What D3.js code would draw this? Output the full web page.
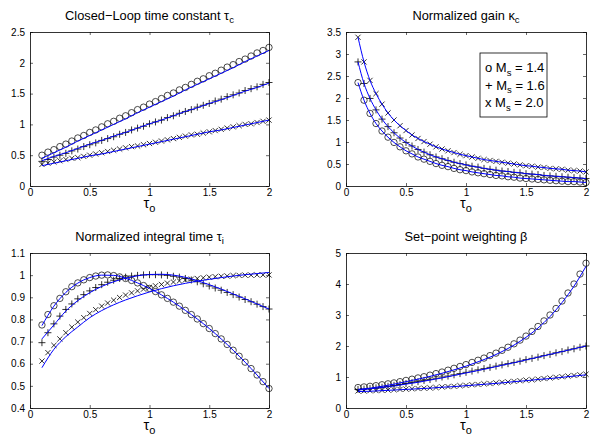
<!DOCTYPE html>
<html>
<head>
<meta charset="utf-8">
<script src="https://cdn.jsdelivr.net/npm/d3@7"></script>
<style>
  body { margin: 0; background: #fff; }
  svg { font-family: "Liberation Sans", Arial, Helvetica, sans-serif; }
</style>
</head>
<body>
<svg width="599" height="445"></svg>
<script>
const svg = d3.select("svg");

// sample points (markers) and fitted curve points
const tauO = [0.10,0.15,0.20,0.25,0.30,0.35,0.40,0.45,0.50,0.55,0.60,0.65,0.70,0.75,0.80,0.85,0.90,0.95,1.00,
  1.05,1.10,1.15,1.20,1.25,1.30,1.35,1.40,1.45,1.50,1.55,1.60,1.65,1.70,1.75,1.80,1.85,1.90,1.95,2.00];
const tauFit = [0.1,0.2,0.3,0.4,0.5,0.6,0.7,0.8,0.9,1.0,1.1,1.2,1.3,1.4,1.5,1.6,1.7,1.8,1.9,2.0];

// closed-loop time constant tau_c
const tcO = [0.50,0.55,0.59,0.64,0.68,0.73,0.78,0.82,0.87,0.91,0.96,1.01,1.05,1.10,1.14,1.19,1.24,1.28,1.33,
  1.37,1.42,1.47,1.51,1.56,1.60,1.65,1.70,1.74,1.79,1.83,1.88,1.93,1.97,2.02,2.06,2.11,2.16,2.20,2.25];
const tcP = [0.40,0.43,0.47,0.50,0.53,0.57,0.60,0.64,0.67,0.70,0.74,0.77,0.80,0.84,0.87,0.91,0.94,0.97,1.01,
  1.04,1.07,1.11,1.14,1.18,1.21,1.24,1.28,1.31,1.34,1.38,1.41,1.45,1.48,1.51,1.55,1.58,1.61,1.65,1.68];
const tcX = [0.35,0.37,0.39,0.41,0.43,0.45,0.46,0.48,0.50,0.52,0.54,0.56,0.58,0.60,0.62,0.64,0.65,0.67,0.69,
  0.71,0.73,0.75,0.77,0.79,0.81,0.83,0.84,0.86,0.88,0.90,0.92,0.94,0.96,0.98,1.00,1.01,1.03,1.05,1.07];
const tcFitO = [0.45,0.54,0.63,0.73,0.82,0.91,1.00,1.09,1.19,1.28,1.37,1.46,1.56,1.65,1.74,1.83,1.92,2.02,2.11,2.20];
const tcFitP = [0.41,0.48,0.54,0.61,0.68,0.74,0.81,0.87,0.94,1.01,1.07,1.14,1.21,1.27,1.34,1.40,1.47,1.54,1.60,1.67];
const tcFitX = [0.33,0.37,0.41,0.45,0.49,0.52,0.56,0.60,0.64,0.68,0.72,0.76,0.80,0.84,0.88,0.91,0.95,0.99,1.03,1.07];

// normalized gain kappa_c
const kcO = [2.35,1.95,1.65,1.42,1.25,1.11,0.99,0.89,0.80,0.73,0.66,0.61,0.56,0.51,0.47,0.44,0.40,0.37,0.35,
  0.32,0.30,0.28,0.26,0.24,0.23,0.21,0.20,0.18,0.17,0.16,0.15,0.14,0.13,0.12,0.11,0.10,0.10,0.09,0.08];
const kcP = [2.82,2.33,1.99,1.73,1.52,1.35,1.21,1.09,0.99,0.91,0.83,0.77,0.71,0.66,0.62,0.58,0.54,0.51,0.48,
  0.45,0.43,0.40,0.38,0.36,0.34,0.33,0.31,0.30,0.28,0.27,0.26,0.24,0.23,0.22,0.21,0.20,0.19,0.18,0.17];
const kcX = [3.38,2.82,2.40,2.10,1.86,1.66,1.50,1.37,1.26,1.16,1.08,1.01,0.95,0.89,0.84,0.80,0.76,0.72,0.69,
  0.66,0.63,0.60,0.58,0.56,0.54,0.52,0.50,0.48,0.46,0.45,0.43,0.42,0.40,0.39,0.38,0.36,0.35,0.34,0.32];

// normalized integral time tau_i
const tiO = [0.775,0.822,0.862,0.895,0.925,0.948,0.965,0.979,0.989,0.996,1.000,1.001,0.998,0.992,0.985,0.976,0.965,0.953,0.940,
  0.926,0.911,0.895,0.878,0.860,0.841,0.822,0.802,0.781,0.759,0.736,0.712,0.687,0.661,0.634,0.607,0.578,0.549,0.519,0.488];
const tiP = [0.695,0.740,0.780,0.815,0.845,0.870,0.893,0.912,0.929,0.944,0.957,0.968,0.977,0.985,0.991,0.996,0.999,1.001,1.002,
  1.002,1.001,0.999,0.995,0.991,0.985,0.978,0.970,0.961,0.951,0.942,0.932,0.922,0.912,0.901,0.890,0.880,0.869,0.858,0.847];
const tiX = [0.612,0.650,0.683,0.712,0.740,0.765,0.788,0.808,0.827,0.844,0.860,0.874,0.887,0.899,0.910,0.920,0.929,0.937,0.945,
  0.952,0.958,0.964,0.969,0.974,0.978,0.982,0.985,0.988,0.991,0.993,0.995,0.996,0.998,0.999,1.000,1.000,1.001,1.001,1.001];
const tiFitO = [0.772,0.860,0.922,0.964,0.989,1.000,0.999,0.986,0.965,0.940,0.911,0.878,0.841,0.802,0.759,0.712,0.661,0.607,0.549,0.488];
const tiFitP = [0.712,0.775,0.838,0.885,0.921,0.949,0.970,0.986,0.997,1.003,1.004,1.000,0.990,0.975,0.957,0.937,0.915,0.893,0.870,0.847];
const tiFitX = [0.582,0.665,0.722,0.766,0.808,0.840,0.866,0.888,0.907,0.924,0.939,0.952,0.963,0.973,0.981,0.989,0.996,1.002,1.007,1.012];

// set-point weighting beta
const bO = [0.66,0.68,0.70,0.72,0.75,0.78,0.81,0.85,0.89,0.93,0.97,1.01,1.06,1.11,1.16,1.22,1.28,1.34,1.40,
  1.47,1.54,1.61,1.69,1.77,1.86,1.96,2.07,2.19,2.32,2.47,2.63,2.81,3.00,3.21,3.45,3.71,4.00,4.32,4.67];
const bP = [0.60,0.61,0.63,0.65,0.67,0.70,0.73,0.76,0.79,0.82,0.85,0.89,0.92,0.96,1.00,1.03,1.07,1.11,1.15,
  1.19,1.23,1.27,1.31,1.35,1.39,1.43,1.47,1.51,1.56,1.60,1.64,1.69,1.73,1.78,1.82,1.87,1.91,1.96,2.00];
const bX = [0.55,0.55,0.56,0.56,0.57,0.58,0.59,0.60,0.61,0.62,0.63,0.64,0.65,0.66,0.68,0.69,0.70,0.72,0.73,
  0.75,0.76,0.78,0.79,0.81,0.83,0.84,0.86,0.88,0.90,0.91,0.93,0.95,0.97,0.99,1.01,1.03,1.05,1.07,1.09];
const bFitO = [0.60,0.64,0.70,0.77,0.85,0.93,1.02,1.12,1.23,1.35,1.49,1.64,1.82,2.03,2.28,2.58,2.95,3.40,3.93,4.57];
const bFitP = [0.58,0.62,0.66,0.71,0.77,0.83,0.90,0.97,1.05,1.13,1.21,1.29,1.38,1.46,1.55,1.64,1.73,1.82,1.91,2.00];
const bFitX = [0.53,0.54,0.56,0.58,0.60,0.62,0.64,0.67,0.69,0.72,0.75,0.78,0.81,0.85,0.88,0.92,0.95,0.99,1.03,1.07];

const xTicks = [0, 0.5, 1, 1.5, 2];
const legendLabels = ["o", "+", "x"];
const legendMs = ["1.4", "1.6", "2.0"];

const panels = [
  { title: "Closed\u2212Loop time constant \u03C4", sub: "c", box: [30, 269, 32, 186],
    yDomain: [0, 2.5], yTicks: [0, 0.5, 1, 1.5, 2, 2.5],
    marks: [tcO, tcP, tcX], xFit: tauFit, fits: [tcFitO, tcFitP, tcFitX] },
  { title: "Normalized gain \u03BA", sub: "c", box: [346, 586, 32, 186],
    yDomain: [0, 3.5], yTicks: [0, 0.5, 1, 1.5, 2, 2.5, 3, 3.5],
    marks: [kcO, kcP, kcX], xFit: tauO, fits: [kcO, kcP, kcX], legend: true },
  { title: "Normalized integral time \u03C4", sub: "i", box: [30, 269, 253, 408],
    yDomain: [0.4, 1.1], yTicks: [0.4, 0.5, 0.6, 0.7, 0.8, 0.9, 1, 1.1],
    marks: [tiO, tiP, tiX], xFit: tauFit, fits: [tiFitO, tiFitP, tiFitX] },
  { title: "Set\u2212point weighting \u03B2", sub: "", box: [346, 586, 253, 408],
    yDomain: [0, 5], yTicks: [0, 1, 2, 3, 4, 5],
    marks: [bO, bP, bX], xFit: tauFit, fits: [bFitO, bFitP, bFitX] }
];

const markerPaths = [
  null,
  "M-3.5,0H3.5M0,-3.5V3.5",
  "M-2.6,-2.6L2.6,2.6M-2.6,2.6L2.6,-2.6"
];

panels.forEach(p => {
  const [x0, x1, y0, y1] = p.box;
  const x = d3.scaleLinear().domain([0, 2]).range([x0, x1]);
  const y = d3.scaleLinear().domain(p.yDomain).range([y1, y0]);
  const g = svg.append("g");

  const fmt = d => String(+d.toFixed(2));

  // axes, ticks pointing inward, box on
  g.append("g").attr("transform", `translate(0,${y1})`)
    .call(d3.axisBottom(x).tickValues(xTicks).tickSizeInner(-3).tickSizeOuter(0).tickPadding(3).tickFormat(fmt));
  g.append("g").attr("transform", `translate(0,${y0})`)
    .call(d3.axisTop(x).tickValues(xTicks).tickSizeInner(-3).tickSizeOuter(0).tickFormat(""));
  g.append("g").attr("transform", `translate(${x0},0)`)
    .call(d3.axisLeft(y).tickValues(p.yTicks).tickSizeInner(-3).tickSizeOuter(0).tickPadding(5).tickFormat(fmt));
  g.append("g").attr("transform", `translate(${x1},0)`)
    .call(d3.axisRight(y).tickValues(p.yTicks).tickSizeInner(-3).tickSizeOuter(0).tickFormat(""));
  g.selectAll(".domain").attr("stroke", "#000").attr("stroke-width", 0.8);
  g.selectAll(".tick line").attr("stroke", "#000").attr("stroke-width", 0.6);
  g.selectAll(".tick text").attr("fill", "#000").attr("font-size", 10)
    .attr("font-family", "'Liberation Sans', Arial, sans-serif");

  // markers
  p.marks.forEach((vals, k) => {
    const pts = tauO.map((t, i) => [x(t), y(vals[i])]);
    if (k === 0) {
      g.append("g").selectAll("circle").data(pts).join("circle")
        .attr("cx", d => d[0]).attr("cy", d => d[1]).attr("r", 3.2)
        .attr("fill", "none").attr("stroke", "#000").attr("stroke-width", 0.7);
    } else {
      g.append("g").selectAll("path").data(pts).join("path")
        .attr("transform", d => `translate(${d[0]},${d[1]})`)
        .attr("d", markerPaths[k])
        .attr("fill", "none").attr("stroke", "#000").attr("stroke-width", 0.8);
    }
  });

  // fitted curves
  const line = d3.line().curve(d3.curveMonotoneX);
  p.fits.forEach(vals => {
    g.append("path")
      .attr("d", line(p.xFit.map((t, i) => [x(t), y(vals[i])])))
      .attr("fill", "none").attr("stroke", "#0000ff").attr("stroke-width", 1);
  });

  // title
  const cx = (x0 + x1) / 2;
  const title = g.append("text").attr("x", cx).attr("y", y0 - 12.5)
    .attr("text-anchor", "middle").attr("font-size", 12.8).attr("fill", "#000")
    .text(p.title);
  if (p.sub) {
    title.append("tspan").attr("font-size", 9.5).attr("dy", 3.5).text(p.sub);
  }

  // x label tau_o
  const xl = g.append("text").attr("x", cx).attr("y", y1 + 21.5)
    .attr("text-anchor", "middle").attr("font-size", 14.5).attr("fill", "#000")
    .text("\u03C4");
  xl.append("tspan").attr("font-size", 11).attr("dy", 4).text("o");

  // legend
  if (p.legend) {
    g.append("rect").attr("x", 480).attr("y", 53).attr("width", 67).attr("height", 64)
      .attr("fill", "#fff").attr("stroke", "#000").attr("stroke-width", 0.8);
    legendLabels.forEach((s, i) => {
      const t = g.append("text").attr("x", 485).attr("y", 72 + i * 17.5)
        .attr("font-size", 13).attr("fill", "#000").text(s + " M");
      t.append("tspan").attr("font-size", 9.5).attr("dy", 3.5).text("s");
      t.append("tspan").attr("dy", -3.5).text(" = " + legendMs[i]);
    });
  }
});
</script>
</body>
</html>
